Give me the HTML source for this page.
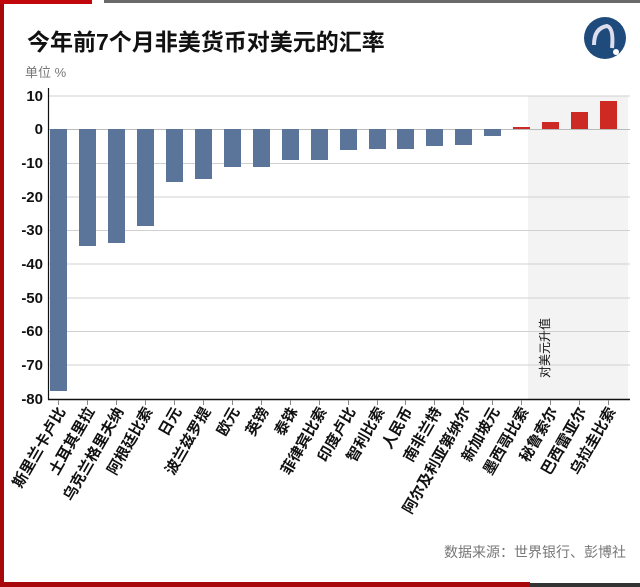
<!DOCTYPE html>
<html><head><meta charset="utf-8"><style>
html,body{margin:0;padding:0;background:#fff;}
svg{display:block;font-family:"Liberation Sans","Noto Sans CJK SC",sans-serif;}
</style></head><body>
<svg width="640" height="587" viewBox="0 0 640 587" xmlns="http://www.w3.org/2000/svg">
<rect x="0" y="0" width="640" height="587" fill="#fff"/>
<rect x="0" y="0" width="4" height="587" fill="#a8070b"/>
<rect x="0" y="0" width="92" height="4" fill="#c0080c"/>
<rect x="104" y="0" width="536" height="3" fill="#6a6a6a"/>
<rect x="0" y="582" width="530" height="5" fill="#a8070b"/>
<rect x="530" y="583" width="110" height="4" fill="#333"/>
<text x="27" y="50" font-size="23" font-weight="bold" fill="#111">今年前7个月非美货币对美元的汇率</text>
<circle cx="605" cy="38" r="21" fill="#1f4a7c"/>
<path d="M594 45 Q594 28 607 26 Q614 28 612 48" stroke="#dde" stroke-width="4" fill="none"/>
<circle cx="616" cy="52" r="3" fill="#fff"/>
<text x="25" y="77" font-size="13" fill="#777">单位 %</text>
<rect x="528" y="96" width="100" height="303" fill="#f3f3f3"/>
<g stroke="#d0d0d0" stroke-width="1">
<line x1="48" y1="96" x2="630" y2="96"/><line x1="48" y1="163.5" x2="630" y2="163.5"/>
<line x1="48" y1="197" x2="630" y2="197"/><line x1="48" y1="230.5" x2="630" y2="230.5"/>
<line x1="48" y1="264" x2="630" y2="264"/><line x1="48" y1="298" x2="630" y2="298"/>
<line x1="48" y1="331.5" x2="630" y2="331.5"/><line x1="48" y1="365" x2="630" y2="365"/>
</g>
<line x1="48" y1="129.5" x2="630" y2="129.5" stroke="#bbb"/>
<g font-size="15" fill="#111" text-anchor="end" font-weight="bold">
<text x="43" y="101">10</text><text x="43" y="134">0</text><text x="43" y="168">-10</text>
<text x="43" y="202">-20</text><text x="43" y="235">-30</text><text x="43" y="269">-40</text>
<text x="43" y="303">-50</text><text x="43" y="336">-60</text><text x="43" y="370">-70</text>
<text x="43" y="404">-80</text>
</g>
<g fill="#5b7499">
<rect x="50" y="129" width="17" height="262"/>
<rect x="79" y="129" width="17" height="117"/>
<rect x="108" y="129" width="17" height="114"/>
<rect x="137" y="129" width="17" height="97"/>
<rect x="166" y="129" width="17" height="53"/>
<rect x="195" y="129" width="17" height="50"/>
<rect x="224" y="129" width="17" height="38"/>
<rect x="253" y="129" width="17" height="38"/>
<rect x="282" y="129" width="17" height="31"/>
<rect x="311" y="129" width="17" height="31"/>
<rect x="340" y="129" width="17" height="21"/>
<rect x="369" y="129" width="17" height="20"/>
<rect x="397" y="129" width="17" height="20"/>
<rect x="426" y="129" width="17" height="17"/>
<rect x="455" y="129" width="17" height="16"/>
<rect x="484" y="129" width="17" height="7"/>
</g>
<g fill="#cc2a22">
<rect x="513" y="127" width="17" height="2"/>
<rect x="542" y="122" width="17" height="7"/>
<rect x="571" y="112" width="17" height="17"/>
<rect x="600" y="101" width="17" height="28"/>
</g>
<line x1="48.5" y1="88" x2="48.5" y2="400" stroke="#111" stroke-width="1.2"/>
<line x1="48" y1="399.5" x2="630" y2="399.5" stroke="#111" stroke-width="1.6"/>
<text transform="translate(549,378) rotate(-90)" font-size="12" fill="#111">对美元升值</text>
<g stroke="#888">
<line x1="58.5" y1="400" x2="58.5" y2="405"/><line x1="87.5" y1="400" x2="87.5" y2="405"/><line x1="116.5" y1="400" x2="116.5" y2="405"/><line x1="145.5" y1="400" x2="145.5" y2="405"/><line x1="174.5" y1="400" x2="174.5" y2="405"/><line x1="203.5" y1="400" x2="203.5" y2="405"/><line x1="232.5" y1="400" x2="232.5" y2="405"/><line x1="261.5" y1="400" x2="261.5" y2="405"/><line x1="290.5" y1="400" x2="290.5" y2="405"/><line x1="319.5" y1="400" x2="319.5" y2="405"/><line x1="348.5" y1="400" x2="348.5" y2="405"/><line x1="377.5" y1="400" x2="377.5" y2="405"/><line x1="405.5" y1="400" x2="405.5" y2="405"/><line x1="434.5" y1="400" x2="434.5" y2="405"/><line x1="463.5" y1="400" x2="463.5" y2="405"/><line x1="492.5" y1="400" x2="492.5" y2="405"/><line x1="521.5" y1="400" x2="521.5" y2="405"/><line x1="550.5" y1="400" x2="550.5" y2="405"/><line x1="579.5" y1="400" x2="579.5" y2="405"/><line x1="608.5" y1="400" x2="608.5" y2="405"/>
</g>
<g font-size="15" fill="#111" text-anchor="end" font-weight="bold">
<text transform="translate(66,411) rotate(-60)">斯里兰卡卢比</text>
<text transform="translate(95,411) rotate(-60)">土耳其里拉</text>
<text transform="translate(124,411) rotate(-60)">乌克兰格里夫纳</text>
<text transform="translate(153,411) rotate(-60)">阿根廷比索</text>
<text transform="translate(182,411) rotate(-60)">日元</text>
<text transform="translate(211,411) rotate(-60)">波兰兹罗提</text>
<text transform="translate(240,411) rotate(-60)">欧元</text>
<text transform="translate(269,411) rotate(-60)">英镑</text>
<text transform="translate(298,411) rotate(-60)">泰铢</text>
<text transform="translate(327,411) rotate(-60)">菲律宾比索</text>
<text transform="translate(356,411) rotate(-60)">印度卢比</text>
<text transform="translate(385,411) rotate(-60)">智利比索</text>
<text transform="translate(413,411) rotate(-60)">人民币</text>
<text transform="translate(442,411) rotate(-60)">南非兰特</text>
<text transform="translate(471,411) rotate(-60)">阿尔及利亚第纳尔</text>
<text transform="translate(500,411) rotate(-60)">新加坡元</text>
<text transform="translate(529,411) rotate(-60)">墨西哥比索</text>
<text transform="translate(558,411) rotate(-60)">秘鲁索尔</text>
<text transform="translate(587,411) rotate(-60)">巴西雷亚尔</text>
<text transform="translate(616,411) rotate(-60)">乌拉圭比索</text>
</g>
<text x="626" y="557" font-size="14" fill="#777" text-anchor="end">数据来源：世界银行、彭博社</text>
</svg>
</body></html>
